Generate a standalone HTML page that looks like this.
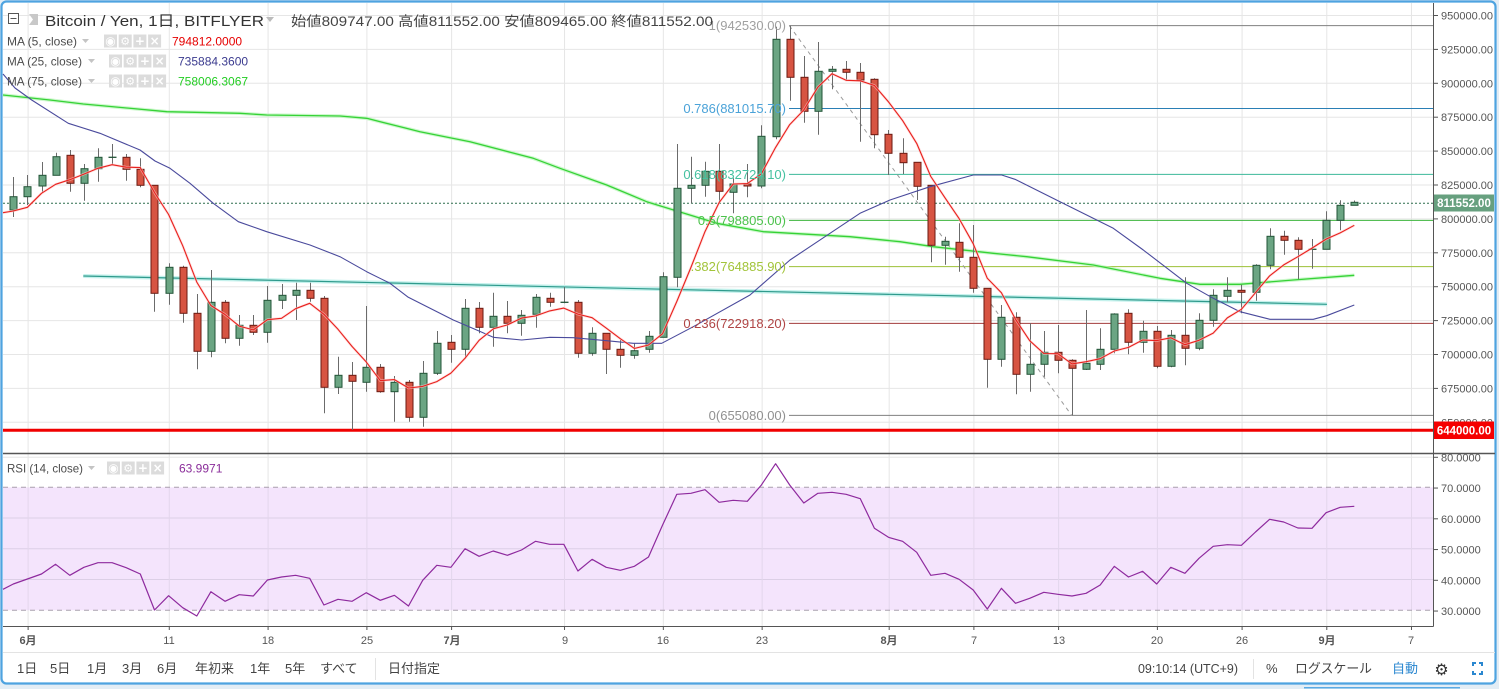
<!DOCTYPE html>
<html><head><meta charset="utf-8">
<style>
html,body{margin:0;padding:0;background:#e3edf5;}
svg{display:block;font-family:"Liberation Sans","Noto Sans CJK JP",sans-serif;}
</style></head>
<body>
<svg id="s" width="1499" height="689" viewBox="0 0 1499 689" xmlns="http://www.w3.org/2000/svg">
<rect x="0" y="0" width="1499" height="689" fill="#e3edf5"/>
<line x1="1304" y1="687.7" x2="1460" y2="687.7" stroke="#5aaae4" stroke-width="1.5"/>
<rect x="1.5" y="1.5" width="1494" height="682" rx="5" ry="5" fill="#ffffff" stroke="#4ea3e0" stroke-width="2.2"/>
<g id="grid"></g>
<!-- RSI band -->
<rect x="3" y="487.3" width="1430.5" height="123" fill="#f4e4fc"/>
<g id="grid2"></g>
<line x1="3" y1="487.3" x2="1433" y2="487.3" stroke="#a9a0ad" stroke-width="1" stroke-dasharray="5,4"/>
<line x1="3" y1="610.3" x2="1433" y2="610.3" stroke="#a9a0ad" stroke-width="1" stroke-dasharray="5,4"/>

<!-- fib lines -->
<line x1="789" y1="25.6" x2="1433" y2="25.6" stroke="#808080" stroke-width="1"/>
<line x1="789" y1="108.5" x2="1433" y2="108.5" stroke="#2a7fb5" stroke-width="1"/>
<line x1="789" y1="174.4" x2="1433" y2="174.4" stroke="#3cb89a" stroke-width="1"/>
<line x1="789" y1="220.4" x2="1433" y2="220.4" stroke="#3db43d" stroke-width="1"/>
<line x1="789" y1="266.6" x2="1433" y2="266.6" stroke="#9dc037" stroke-width="1"/>
<line x1="789" y1="323.4" x2="1433" y2="323.4" stroke="#a23c3c" stroke-width="1"/>
<line x1="789" y1="415.4" x2="1433" y2="415.4" stroke="#808080" stroke-width="1"/>
<line x1="789.3" y1="25.6" x2="1071.7" y2="415.4" stroke="#9a9a9a" stroke-width="1" stroke-dasharray="4,4"/>

<!-- current price dotted -->
<line x1="3" y1="203.2" x2="1433" y2="203.2" stroke="#2f6e4e" stroke-width="1" stroke-dasharray="2,2"/>
<!-- 644000 line -->
<line x1="3" y1="430.3" x2="1433" y2="430.3" stroke="#f00000" stroke-width="3"/>
<!-- teal trend line -->
<line x1="83.3" y1="276" x2="1327" y2="304.3" stroke="#c4f1ec" stroke-width="4"/>
<line x1="83.3" y1="276" x2="1327" y2="304.3" stroke="#2f9a8c" stroke-width="1.2"/>

<g id="plots"></g>

<!-- fib labels -->
<g font-size="13" text-anchor="end">
<text x="786" y="30" fill="#a0a0a0">1(942530.00)</text>
<text x="786" y="113" fill="#4aa2d8">0.786(881015.70)</text>
<text x="786" y="179" fill="#45c1a0">0.618(832724.10)</text>
<text x="786" y="225" fill="#4cc24c">0.5(798805.00)</text>
<text x="786" y="271" fill="#a2c43a">.382(764885.90)</text>
<text x="786" y="328" fill="#b04545">0.236(722918.20)</text>
<text x="786" y="420" fill="#909090">0(655080.00)</text>
</g>

<!-- legend -->
<rect x="8.5" y="13.5" width="10" height="10" fill="#fff" stroke="#555" stroke-width="1"/>
<line x1="10.5" y1="18.5" x2="16.5" y2="18.5" stroke="#555" stroke-width="1"/>
<polygon points="29,14 38,14 38,25 29,25 33,19.5" fill="#c8c8c8"/>
<text x="45" y="26" font-size="14.5" fill="#333" textLength="219" lengthAdjust="spacingAndGlyphs">Bitcoin / Yen, 1日, BITFLYER</text>
<polygon points="266,17 274,17 270,22" fill="#bbb"/>
<text x="291" y="26" font-size="13.5" fill="#444" textLength="422" lengthAdjust="spacingAndGlyphs">始値809747.00  高値811552.00  安値809465.00  終値811552.00</text>

<g font-size="12" fill="#4c4c4c">
<text x="7" y="45.5" textLength="70" lengthAdjust="spacingAndGlyphs">MA (5, close)</text>
<text x="7" y="65.5" textLength="75" lengthAdjust="spacingAndGlyphs">MA (25, close)</text>
<text x="7" y="85.5" textLength="75" lengthAdjust="spacingAndGlyphs">MA (75, close)</text>
<text x="7" y="472.5" textLength="76" lengthAdjust="spacingAndGlyphs">RSI (14, close)</text>
</g>
<g fill="#c4c4c4">
<polygon points="82,39 89,39 85.5,43"/>
<polygon points="88,59 95,59 91.5,63"/>
<polygon points="88,79 95,79 91.5,83"/>
<polygon points="88,466 95,466 91.5,470"/>
</g>
<g id="icons"></g>
<g font-size="12">
<text x="172" y="45.5" fill="#e60000">794812.0000</text>
<text x="178" y="65.5" fill="#3b3b8f">735884.3600</text>
<text x="178" y="85.5" fill="#22cc22">758006.3067</text>
<text x="179" y="472.5" fill="#8a2d9a">63.9971</text>
</g>

<!-- axes lines -->
<line x1="1433.5" y1="3" x2="1433.5" y2="626.5" stroke="#555" stroke-width="1"/>
<line x1="3" y1="453.5" x2="1495" y2="453.5" stroke="#555" stroke-width="1.5"/>
<line x1="3" y1="626.5" x2="1433.5" y2="626.5" stroke="#555" stroke-width="1"/>
<line x1="3" y1="652.5" x2="1495" y2="652.5" stroke="#e3e3e3" stroke-width="1"/>
<line x1="375.5" y1="658" x2="375.5" y2="680" stroke="#e3e3e3" stroke-width="1"/>
<line x1="1253.5" y1="659" x2="1253.5" y2="679" stroke="#e3e3e3" stroke-width="1"/>

<g id="paxis" font-size="11" fill="#555"></g>

<!-- price labels boxes -->
<rect x="1434" y="194.5" width="60" height="17" fill="#67a07f"/>
<text x="1464" y="207.2" font-size="11.5" font-weight="bold" fill="#fff" text-anchor="middle">811552.00</text>
<rect x="1434" y="421.5" width="60" height="17.5" fill="#f50000"/>
<text x="1464" y="434.5" font-size="11.5" font-weight="bold" fill="#fff" text-anchor="middle">644000.00</text>

<!-- time axis -->
<g font-size="11" fill="#555" text-anchor="middle">
<text x="28" y="644" font-weight="bold">6月</text>
<text x="169" y="644">11</text>
<text x="268" y="644">18</text>
<text x="367" y="644">25</text>
<text x="452" y="644" font-weight="bold">7月</text>
<text x="565" y="644">9</text>
<text x="663" y="644">16</text>
<text x="762" y="644">23</text>
<text x="889" y="644" font-weight="bold">8月</text>
<text x="974" y="644">7</text>
<text x="1059" y="644">13</text>
<text x="1157" y="644">20</text>
<text x="1242" y="644">26</text>
<text x="1327" y="644" font-weight="bold">9月</text>
<text x="1411" y="644">7</text>
</g>

<!-- bottom toolbar -->
<g font-size="13" fill="#444">
<text x="17" y="673">1日</text>
<text x="50" y="673">5日</text>
<text x="87" y="673">1月</text>
<text x="122" y="673">3月</text>
<text x="157" y="673">6月</text>
<text x="195" y="673">年初来</text>
<text x="250" y="673">1年</text>
<text x="285" y="673">5年</text>
<text x="320" y="673">すべて</text>
<text x="388" y="673">日付指定</text>
<text x="1138" y="673" textLength="100" lengthAdjust="spacingAndGlyphs">09:10:14 (UTC+9)</text>
<text x="1266" y="673">%</text>
<text x="1295" y="673" textLength="77" lengthAdjust="spacingAndGlyphs">ログスケール</text>
<text x="1392" y="673" fill="#2a87d0">自動</text>
</g>
<text x="1441.5" y="675" font-size="16" fill="#333" text-anchor="middle" font-family="DejaVu Sans, sans-serif">⚙</text>
<g stroke="#2a87d0" stroke-width="2" fill="none">
<polyline points="1473,666 1473,663 1476,663"/>
<polyline points="1479,663 1482,663 1482,666"/>
<polyline points="1482,671 1482,674 1479,674"/>
<polyline points="1476,674 1473,674 1473,671"/>
</g>
</svg>
<script>
(function(){
var NS="http://www.w3.org/2000/svg";
function X(i){return 13.3+i*14.116;}
// vertical grid
var g="";
var vx=[1,11,18,25,31,39,46,53,62,68,74,81,87,93,99];
var gx=vx.map(function(i){return X(i)+0.7;});
gx.forEach(function(x){
  g+='<line x1="'+x+'" y1="3" x2="'+x+'" y2="626" stroke="#e6e6e6" stroke-width="1"/>';
});
for(var k=0;k<13;k++){var y=15.5+k*33.9;
  g+='<line x1="3" y1="'+y+'" x2="1433" y2="'+y+'" stroke="#e6e6e6" stroke-width="1"/>';}
g+='<line x1="3" y1="457.3" x2="1433" y2="457.3" stroke="#e6e6e6" stroke-width="1"/>';
document.getElementById("grid").innerHTML=g;
var g2="";
[518,548.8,579.5].forEach(function(y){g2+='<line x1="3" y1="'+y+'" x2="1433" y2="'+y+'" stroke="#dccfe6" stroke-width="1"/>';});
gx.forEach(function(x){g2+='<line x1="'+x+'" y1="487.3" x2="'+x+'" y2="610.3" stroke="#e3d6ec" stroke-width="1"/>';});
document.getElementById("grid2").innerHTML=g2;

// candles: [type, top, bottom, hi, lo]
var C=[
['g',196.7,210,177,217],['g',186.7,196.7,175,205],['g',175.3,186,162,193],['g',156.7,175.3,152.7,175.3],
['r',155.3,183.3,150,191.7],['g',168.7,183.3,164,200.7],['g',157.3,168.7,148.3,181.7],['d',157.3,157.3,144,164.3],
['r',157.3,169.3,154,180.7],['r',169.3,185.3,158.3,187.3],['r',185.3,293.3,185.3,311.7],['g',267.3,293.3,263.3,304.7],
['r',267.3,313.3,265.7,322.7],['r',313.3,351.3,294,369.3],['g',302.3,351.3,270,357.3],['r',302.3,338.3,300,343.3],
['g',325.3,338.3,315,345.7],['r',325.3,332.3,315,335],['g',300.3,332.3,286,342.7],['g',295.3,300.3,284,309],
['g',290.3,295.3,282.7,320],['r',290.3,298.3,282.7,301.7],['r',298.3,387.3,296,413.3],['g',375.3,387.3,356.7,394],
['r',375.3,381.3,362,430],['g',367.3,382.3,306,391.7],['r',367.3,391.7,364,392.7],['g',382.3,391.7,376,421.7],
['r',382.3,417.3,380,421.7],['g',373.3,417.3,361,426.7],['g',343.3,373.3,331,375],['r',342.3,349.3,335,362.7],
['g',308.3,349.3,299,358.3],['r',308.3,327.3,302,333.3],['g',316.3,327.3,292.7,346.7],['r',316.3,323.3,301,333.3],
['g',315.3,323.3,310,335.7],['g',297.3,314.3,294,327.7],['r',298.3,302.3,292.7,306.7],['d',302.3,302.3,287.3,303.3],
['r',302.3,353.3,300,357.7],['g',333.3,353.3,327.3,355.7],['r',333.3,349.3,333.3,374],['r',349.3,355.3,340,367.7],
['g',350.7,355.3,343.3,358.7],['g',336.3,349.3,331,352.7],['g',276.7,337.3,272.3,337.3],['g',188.3,277.3,144,287.3],
['g',185.3,188.3,156.7,203.3],['g',171.3,185.3,161.7,196.7],['r',171.3,191.3,144,201.7],['g',184,192.3,178.3,213.3],
['r',184,186,164,197.3],['g',136.3,186,125.3,188.3],['g',39.3,136.7,26.7,139.3],['r',39.3,77.3,25.6,100.7],
['r',77.3,111.3,56,122.7],['g',71.3,111.3,42,134.7],['g',69.3,71.3,66,89.3],['r',69.3,72.3,61,80],
['r',72.3,80,63,141.7],['r',79.3,134.7,78.3,148.3],['r',134.3,153.3,130,175],['r',153.3,162.7,138.3,174],
['r',162.3,186.3,162.3,200],['r',185.3,245.3,185.3,262.3],['g',241.3,245.3,236.7,264.7],['r',242.3,257.3,223.3,271.7],
['r',257.3,288.3,225,292.7],['r',288.3,359.3,288.3,387.7],['g',317.3,359.3,305,366.7],['r',317.3,374.3,312.3,394.3],
['g',364.3,374.3,323.3,391.7],['g',352.3,364.3,331,376.7],['r',352.3,360.3,325,373.3],['r',360.3,368.3,359.3,415.4],
['g',363.3,369.3,310,370],['g',349.3,364.3,328.3,370],['g',314,349.3,313.3,353.3],['r',313.3,342.3,309.3,354.3],
['g',331.3,342.3,320.7,352.7],['r',331.3,366.3,326,368.3],['g',335.3,366.3,330,367.3],['r',335.3,348.3,277.3,365.3],
['g',320.3,348.3,313.3,350.3],['g',295.3,320.3,289.3,326.7],['g',290.3,296.3,277.3,302.3],['r',290.3,292.3,284.7,313.3],
['g',265.3,292.3,264.3,300.7],['g',236.3,265.3,228.3,269.3],['r',236.3,240.3,230.7,254.7],['r',240.3,249.3,237.3,279.3],
['d',249.3,249.3,239,268.7],['g',220.3,249.3,211.3,249.3],['g',205.3,220.3,200.3,230.3],['g',202.3,205.3,200.5,205.5]
];
var s="";
function pl(pts,col,w,extra){return '<polyline points="'+pts.map(function(p){return p[0].toFixed(1)+','+p[1].toFixed(1);}).join(' ')+'" fill="none" stroke="'+col+'" stroke-width="'+w+'" stroke-linejoin="round" '+(extra||'')+'/>';}
// MA75
var m75=[[3,95],[50,100],[83.3,104],[166.7,111.7],[240,113.3],[266.7,115],[340,116],[366.7,118.3],[420,131.7],[470,141.7],[533.3,158.3],[560,168.3],[606.7,185],[646.7,201.7],[716.7,223.3],[763.3,231.7],[850,236.7],[900,241.7],[933.3,246.7],[993.3,253.3],[1026.7,256.7],[1093.3,265],[1160,278.3],[1200,284.3],[1240,284.3],[1293.3,280],[1354.3,275.3]];
var m25=[[3,74],[15,88],[31.7,100],[68.3,123.3],[100,133.3],[140,150],[155,161],[170,168.3],[190,183.3],[213.3,203.3],[238.3,221.7],[266.7,231.7],[310,245],[340,256.7],[366.7,271.7],[390,283.3],[408.3,297.3],[453.3,320],[476.7,330],[493.3,337.3],[521.7,340],[550,337.3],[573.3,337.7],[606.7,340.7],[633.3,343.3],[661.7,343.3],[693.3,326.7],[750,295],[790,260],[830,233.3],[860,213.3],[890,200],[930,186.7],[973.3,175],[1001.7,175],[1015,179.3],[1060,201.7],[1113.3,228.3],[1143.3,250],[1186.7,283.3],[1213.3,298.3],[1240,311.7],[1270,319.3],[1313.3,319.3],[1326.7,315.7],[1354.3,305]];
// candles
C.forEach(function(c,i){
  var x=X(i), xr=Math.round(x)+0.5;
  var wick=(c[0]=='r')?'#6b6b6b':'#6b6b6b';
  s+='<line x1="'+xr+'" y1="'+c[3]+'" x2="'+xr+'" y2="'+c[4]+'" stroke="'+wick+'" stroke-width="1"/>';
  if(c[0]=='d'){
    s+='<line x1="'+(xr-4)+'" y1="'+c[1]+'" x2="'+(xr+4)+'" y2="'+c[1]+'" stroke="#225437" stroke-width="1.3"/>';
  } else {
    var h=Math.max(c[2]-c[1],1.5);
    var fill=c[0]=='g'?'#6ba583':'#d75442', st=c[0]=='g'?'#225437':'#6b1a12';
    s+='<rect x="'+(xr-3.5)+'" y="'+c[1]+'" width="7" height="'+h+'" fill="'+fill+'" stroke="'+st+'" stroke-width="1"/>';
  }
});
s=pl(m75,'#b8f5b8',3.5,'opacity="0.7"')+pl(m75,'#36d236',1.3)+s;
s+=pl(m25,'#4a4a9c',1.1);
// MA5
var closes=C.map(function(c){return c[0]=='g'?c[1]:(c[0]=='r'?c[2]:c[1]);});
var m5=[[3,212.7],[X(0),211],[X(1),207.3],[X(2),193.3],[X(3),184.3]];
for(var i=4;i<C.length;i++){var a=0;for(var j=i-4;j<=i;j++)a+=closes[j];m5.push([X(i),a/5]);}
s+=pl(m5,'#ffc9c9',2.6,'opacity="0.6"')+pl(m5,'#e8211d',1.1);
// RSI
var ry=[584,579,574,564.3,575.3,567.3,562.7,562.7,567.7,574,610,595.7,607.7,616,591.7,601.3,594.7,596,580,577,575.3,578.3,605,599.3,601.3,592.7,600.3,595.3,606,580.3,565.3,567.3,548.7,556.3,551,555.3,550,541.3,544.3,544.3,571,559.3,567.3,570.3,566.3,557,525,494.3,493.3,489.7,502.3,500.3,501.3,485,463.7,485,503,493.3,492.3,494.3,498.7,528.3,537.3,541.3,552.3,575.3,573.3,579.3,590,609,588.3,603.3,598.3,592.3,594.3,596,593.3,585,566.3,577,571.3,584,567.3,573.3,558.3,546.3,544.7,545.3,532,519.3,522,528,528.3,512.7,507.3,506.3];
var rp=[[3,589.3]];ry.forEach(function(y,i){rp.push([X(i),y]);});
s+=pl(rp,'#8e2a9e',1.2);
document.getElementById("plots").innerHTML=s;

// legend icons
var ic="";
function icons(x0,y0){
  var gl=['◉','⚙','+','×'];
  for(var k=0;k<4;k++){var x=x0+k*14.7;
    ic+='<rect x="'+x+'" y="'+y0+'" width="13" height="13" fill="#dcdcdc"/>';
    ic+='<text x="'+(x+6.5)+'" y="'+(y0+10.5)+'" font-size="'+(k==1?11:12)+'" fill="#fff" font-weight="bold" text-anchor="middle" font-family="DejaVu Sans, sans-serif">'+gl[k]+'</text>';
  }
}
icons(104,34.5);icons(109,54.5);icons(109,74.5);icons(107,461.5);
document.getElementById("icons").innerHTML=ic;

// price axis
var pa="";
var labs=["950000.00","925000.00","900000.00","875000.00","850000.00","825000.00","800000.00","775000.00","750000.00","725000.00","700000.00","675000.00","650000.00"];
labs.forEach(function(t,k){var y=15.5+k*33.9;
  pa+='<line x1="1433" y1="'+y+'" x2="1438" y2="'+y+'" stroke="#555" stroke-width="1"/>';
  pa+='<text x="1441" y="'+(y+4)+'">'+t+'</text>';});
var rl=["80.0000","70.0000","60.0000","50.0000","40.0000","30.0000"];
rl.forEach(function(t,k){var y=457.3+k*30.75;
  pa+='<line x1="1433" y1="'+y+'" x2="1438" y2="'+y+'" stroke="#555" stroke-width="1"/>';
  pa+='<text x="1441" y="'+(y+4)+'">'+t+'</text>';});
gx.forEach(function(x){pa+='<line x1="'+x+'" y1="626" x2="'+x+'" y2="630" stroke="#555" stroke-width="1"/>';});
document.getElementById("paxis").innerHTML=pa;
})();
</script>
</body></html>
